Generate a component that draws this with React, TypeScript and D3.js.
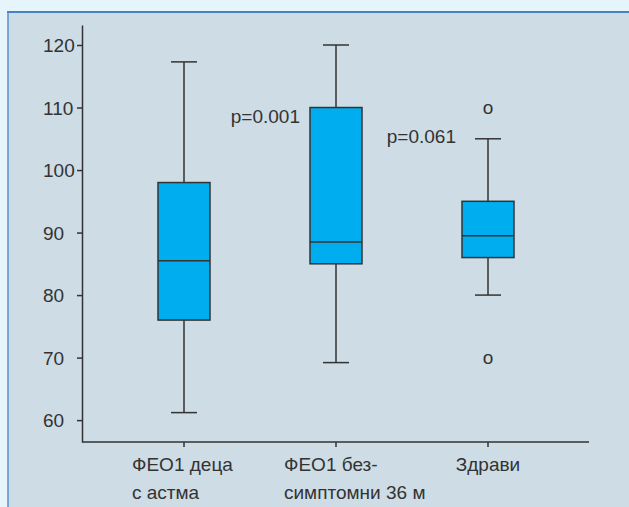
import React, { useRef, useEffect } from "react";
import * as d3 from "d3";

const categories = [["ФЕО1 деца", "с астма"], ["ФЕО1 без-", "симптомни 36 м"], ["Здрави"]];
const whiskerLow = [61.2, 69.2, 80];
const q1 = [76, 85, 86];
const median = [85.5, 88.5, 89.5];
const q3 = [98, 110, 95];
const whiskerHigh = [117.3, 120, 105];
const outliers = [[], [], [110, 70]];
const pLabels = ["", "p=0.001", "p=0.061"];
const pLabelAt = [0, 108.6, 105.5];
const yTicks = [60, 70, 80, 90, 100, 110, 120];

const W = 629;
const H = 507;
const FONT = "'Liberation Sans', Arial, Helvetica, sans-serif";
const INK = "#333";

const App = () => {
  const ref = useRef<SVGSVGElement | null>(null);

  useEffect(() => {
    document.body.style.margin = "0";
    const svg = d3.select(ref.current);
    svg.selectAll("*").remove();

    svg.append("rect").attr("width", W).attr("height", H).attr("fill", "#e6f4fb");
    svg.append("rect").attr("x", 8).attr("y", 12).attr("width", W - 8).attr("height", H - 12).attr("fill", "#cddce5");
    svg.append("line").attr("x1", 7).attr("x2", W).attr("y1", 12).attr("y2", 12).attr("stroke", "#4a80c4").attr("stroke-width", 2);
    svg.append("line").attr("x1", 8).attr("x2", 8).attr("y1", 12).attr("y2", H).attr("stroke", "#5a8fd0").attr("stroke-width", 1.5);

    const y = d3.scaleLinear().domain([56.5, 123.2]).range([442, 25]);
    const x = d3.scalePoint<number>().domain(categories.map((_, i) => i)).range([184, 488]);

    const g = svg.append("g").attr("font-family", FONT).attr("fill", INK);

    // y axis
    const yAxis = g.append("g").attr("transform", "translate(82,0)")
      .call(d3.axisLeft(y).tickValues(yTicks).tickSize(5).tickSizeOuter(0).tickFormat(d3.format("d")));
    yAxis.select(".domain").attr("stroke", INK).attr("stroke-width", 1.5);
    yAxis.selectAll(".tick line").attr("stroke", INK).attr("stroke-width", 1.5);
    yAxis.selectAll(".tick text")
      .attr("x", -39).attr("dy", "0.36em").attr("text-anchor", "start")
      .attr("font-size", 19).attr("font-family", FONT).attr("fill", INK);

    // x axis
    g.append("line").attr("x1", 82).attr("x2", 589).attr("y1", 442).attr("y2", 442)
      .attr("stroke", INK).attr("stroke-width", 1.5);
    categories.forEach((lines, i) => {
      const cx = x(i)!;
      g.append("line").attr("x1", cx).attr("x2", cx).attr("y1", 442).attr("y2", 447)
        .attr("stroke", INK).attr("stroke-width", 1.5);
      const t = g.append("text").attr("font-size", 19)
        .attr("text-anchor", lines.length > 1 ? "start" : "middle");
      lines.forEach((ln, j) => {
        t.append("tspan").attr("x", lines.length > 1 ? cx - 52 : cx).attr("y", 471 + j * 28).text(ln);
      });
    });

    // boxes
    const bw = 52;
    categories.forEach((_, i) => {
      const cx = x(i)!;
      const b = g.append("g").attr("stroke", INK).attr("stroke-width", 1.5);
      b.append("line").attr("x1", cx).attr("x2", cx).attr("y1", y(whiskerHigh[i])).attr("y2", y(q3[i]));
      b.append("line").attr("x1", cx).attr("x2", cx).attr("y1", y(q1[i])).attr("y2", y(whiskerLow[i]));
      b.append("line").attr("x1", cx - bw / 4).attr("x2", cx + bw / 4).attr("y1", y(whiskerHigh[i])).attr("y2", y(whiskerHigh[i]));
      b.append("line").attr("x1", cx - bw / 4).attr("x2", cx + bw / 4).attr("y1", y(whiskerLow[i])).attr("y2", y(whiskerLow[i]));
      b.append("rect").attr("x", cx - bw / 2).attr("width", bw)
        .attr("y", y(q3[i])).attr("height", y(q1[i]) - y(q3[i])).attr("fill", "#00adee");
      b.append("line").attr("x1", cx - bw / 2).attr("x2", cx + bw / 2).attr("y1", y(median[i])).attr("y2", y(median[i]));

      outliers[i].forEach(v => {
        g.append("text").attr("x", cx).attr("y", y(v) + 6).attr("text-anchor", "middle")
          .attr("font-size", 19).text("o");
      });

      if (pLabels[i]) {
        g.append("text").attr("x", cx - bw / 2 - (i === 1 ? 10 : 6)).attr("y", y(pLabelAt[i]) + 7)
          .attr("text-anchor", "end").attr("font-size", 19).text(pLabels[i]);
      }
    });
  }, []);

  return <svg ref={ref} width={W} height={H} style={{ display: "block" }} />;
};

export default App;
